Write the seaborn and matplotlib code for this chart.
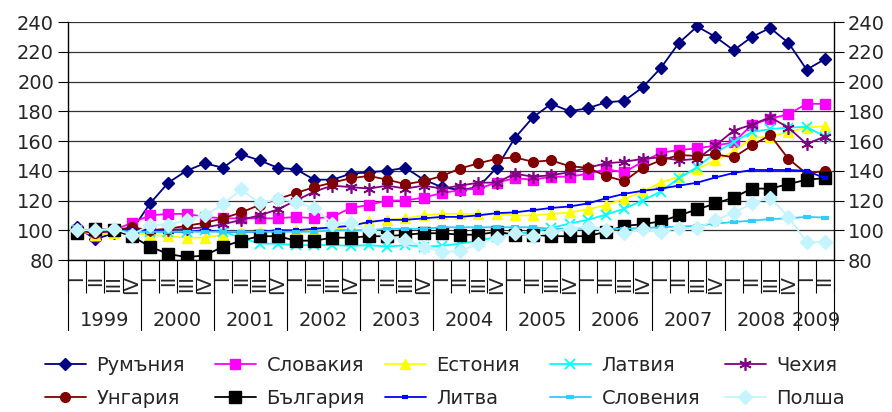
import numpy as np
import matplotlib
matplotlib.use("Agg")
import matplotlib.pyplot as plt
import matplotlib.transforms as mtransforms
from matplotlib.lines import Line2D
import seaborn as sns

# Quarterly index values, 1999 Q1 - 2009 Q2
quarters = ["I", "II", "III", "IV"] * 10 + ["I", "II"]
years = ["1999", "2000", "2001", "2002", "2003", "2004", "2005", "2006", "2007", "2008", "2009"]

romania = [102, 94, 98, 100, 118, 132, 140, 145, 142, 151, 147, 142, 141, 134, 134, 138, 139, 140, 142, 134,
           129, 127, 129, 142, 162, 176, 185, 180, 182, 186, 187, 196, 209, 226, 237, 230, 221, 230, 236, 226,
           208, 215]
slovakia = [100, 96, 100, 105, 110, 111, 111, 109, 108, 108, 108, 108, 109, 108, 109, 115, 117, 120, 120, 122,
            125, 127, 128, 132, 135, 134, 136, 136, 138, 141, 139, 146, 152, 154, 155, 157, 159, 171, 175, 178,
            185, 185]
estonia = [100, 97, 98, 98, 97, 96, 95, 95, 97, 99, 99, 99, 100, 100, 100, 103, 106, 107, 108, 110,
           111, 111, 111, 111, 110, 110, 111, 112, 114, 117, 121, 126, 132, 136, 141, 147, 153, 162, 163, 166,
           169, 170]
latvia = [100, 99, 100, 99, 99, 99, 99, 100, 99, 95, 91, 91, 90, 90, 90, 89.5, 90, 89, 90, 89,
          89.5, 91, 93, 95.5, 97.5, 99, 101.5, 104.5, 107, 110.5, 114.5, 120, 126, 135, 142.5, 152, 159.5, 166, 168, 169,
          169.5, 163]
czech = [100, 99, 101, 100, 100, 100, 101, 102, 104, 107, 110, 114, 120, 126, 130, 129, 128, 130, 128, 130,
         128, 130, 132, 132, 138, 136, 137, 139, 142, 145, 146, 148, 149, 147, 148, 157, 167, 171, 176, 169,
         158, 163]
hungary = [100, 98, 100, 102, 100, 101, 103, 105, 108, 112, 117, 121, 125, 129, 132, 135, 136.5, 134, 131, 133,
           136.5, 141.5, 145, 148, 149, 146, 147, 143, 142, 136.5, 133, 142, 147, 150.5, 150, 151, 149, 157, 164, 148,
           138, 140]
bulgaria = [98, 101, 100, 96, 89, 84, 82, 83, 89, 93, 96, 96, 93, 93, 95, 95, 96, 96, 97, 98,
            98, 97, 97, 99, 97, 97, 96, 96, 96, 99, 103, 104, 106, 110, 114, 118, 122, 128, 128, 131,
            134, 135]
lithuania = [100, 100, 100, 100, 100, 99, 99, 100, 99, 99, 99, 100, 100, 101, 102, 103, 105.5, 107, 107, 108,
             109, 109, 110, 111.5, 112, 113.5, 115, 116, 118, 121.5, 124.5, 126.5, 128, 130, 132, 135.5, 138.5, 140.5, 140.5, 140.5,
             140, 135]
slovenia = [100, 100, 100, 99, 99, 99, 99, 99, 99, 99, 99, 99, 99, 99, 100, 100, 100, 101, 101, 101,
            102, 102, 102, 102, 102, 102, 101, 101, 101, 101, 101, 101.5, 102, 102.5, 103, 104.5, 105.5, 106.5, 107.5, 108,
            109, 108.5]
poland = [100, 100, 101, 97, 103.5, 103.5, 107, 110, 117.5, 127.5, 118, 121, 119, 115, 104.5, 105, 100, 95.5, 93.5, 89,
          85.5, 86, 91, 94.5, 98, 96, 99, 101, 102.5, 100, 98, 101, 99, 101.5, 101.5, 107, 111.5, 118, 122, 109,
          92, 92]

# name, values, colour, marker, size, edge width
series = [
    ("Румъния", romania, "#000080", "D", 6, 1.0),
    ("Словакия", slovakia, "#FF00FF", "s", 6.5, 1.0),
    ("Естония", estonia, "#FFFF00", "^", 7.5, 1.0),
    ("Латвия", latvia, "#00FFFF", "x", 7.5, 1.3),
    ("Чехия", czech, "#800080", (6, 2, 0), 9, 1.2),
    ("Унгария", hungary, "#800000", "o", 7, 1.0),
    ("България", bulgaria, "#000000", "s", 8.5, 1.0),
    ("Литва", lithuania, "#0000FF", "_", 5, 3.0),
    ("Словения", slovenia, "#33CCFF", "_", 6, 3.0),
    ("Полша", poland, "#C4F4FF", "D", 7, 1.0),
]

sns.set_style("white")
plt.rcParams["font.family"] = ["DejaVu Sans"]

fig = plt.figure(figsize=(8.92, 4.12), dpi=100)
ax_h = 238
ax = fig.add_axes([68 / 892, 1 - 260 / 412, 766 / 892, ax_h / 412])

x = np.arange(len(quarters))
handles = []
for name, vals, col, mk, ms, mew in series:
    sns.lineplot(x=x, y=vals, ax=ax, color=col, marker=mk, markersize=ms,
                 markerfacecolor=col, markeredgecolor=col, markeredgewidth=mew,
                 linewidth=1.3, legend=False)
    handles.append(Line2D([], [], color=col, marker=mk, markersize=ms, markerfacecolor=col,
                          markeredgecolor=col, markeredgewidth=mew, linewidth=1.3, label=name))

ax.set_xlim(-0.5, len(quarters) - 0.5)
ax.set_ylim(80, 240)
ax.set_yticks(range(80, 241, 20))
ax.yaxis.grid(True, color="#333333", linewidth=0.9)
ax.set_axisbelow(True)
ax.tick_params(axis="y", labelsize=14, length=7, width=0.8, direction="out", color="black", pad=3, left=True)
ax.set_xticks(np.arange(-0.5, len(quarters), 1))
ax.set_xticklabels([])
ax.tick_params(axis="x", length=24, width=0.8, direction="out", color="black", bottom=True)
ax.set_xlabel("")
ax.set_ylabel("")
ax.spines["top"].set_visible(False)
for s in ["left", "right", "bottom"]:
    ax.spines[s].set_color("black")
    ax.spines[s].set_linewidth(1.0)

ax2 = ax.twinx()
ax2.set_ylim(80, 240)
ax2.set_yticks(range(80, 241, 20))
ax2.tick_params(axis="y", labelsize=14, length=7, width=0.8, direction="out", color="black", pad=3, right=True)
for s in ax2.spines.values():
    s.set_visible(False)

# quarter and year labels under the axis
trans = mtransforms.blended_transform_factory(ax.transData, ax.transAxes)
for i, q in enumerate(quarters):
    ax.text(i, -15 / ax_h, q, rotation=90, ha="center", va="top", fontsize=14, transform=trans)

start = 0
for yr in years:
    n = 4 if yr != "2009" else 2
    ax.text(start + (n - 1) / 2, -60 / ax_h, yr, ha="center", va="center", fontsize=14, transform=trans)
    start += n

bounds = list(np.arange(-0.5, len(quarters), 4)) + [len(quarters) - 0.5]
for b in bounds:
    ax.add_artist(Line2D([b, b], [0, -70 / ax_h], transform=trans, color="black", linewidth=0.8, clip_on=False))

# legend: five columns of two entries
col_x = [45, 215, 385, 550, 725]
for k, cx in enumerate(col_x):
    fig.legend(handles=[handles[k], handles[k + 5]], loc="center left",
               bbox_to_anchor=(cx / 892, 1 - 382 / 412), frameon=False, fontsize=14,
               handlelength=2.1, handletextpad=0.55, labelspacing=0.7, borderpad=0,
               borderaxespad=0, numpoints=1)

fig.savefig("out.png", dpi=100)
